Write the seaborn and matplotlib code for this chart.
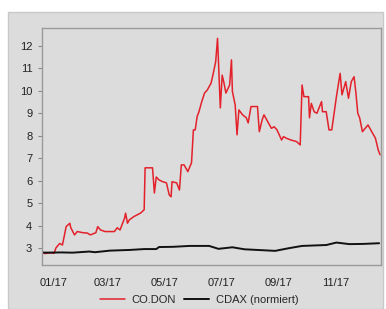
import numpy as np
import pandas as pd
import matplotlib
matplotlib.use("Agg")
import matplotlib.pyplot as plt
import matplotlib.dates as mdates
from matplotlib.patches import Rectangle
import seaborn as sns

# CO.DON share price (EUR)
codon_dates = [
    "2016-12-20", "2016-12-23", "2016-12-29", "2017-01-02", "2017-01-04", "2017-01-08",
    "2017-01-11", "2017-01-15", "2017-01-19", "2017-01-20", "2017-01-24", "2017-01-27",
    "2017-02-02", "2017-02-07", "2017-02-10", "2017-02-16", "2017-02-18", "2017-02-21",
    "2017-02-26", "2017-03-08", "2017-03-11", "2017-03-14", "2017-03-19", "2017-03-20",
    "2017-03-22", "2017-03-24", "2017-03-29", "2017-04-05", "2017-04-09", "2017-04-10",
    "2017-04-18", "2017-04-20", "2017-04-22", "2017-04-25", "2017-04-29", "2017-05-03",
    "2017-05-06", "2017-05-08", "2017-05-09", "2017-05-14", "2017-05-17", "2017-05-19",
    "2017-05-22", "2017-05-26", "2017-05-30", "2017-06-01", "2017-06-03", "2017-06-05",
    "2017-06-07", "2017-06-10", "2017-06-13", "2017-06-16", "2017-06-20", "2017-06-22",
    "2017-06-25", "2017-06-27", "2017-06-30", "2017-07-02", "2017-07-04", "2017-07-06",
    "2017-07-10", "2017-07-12", "2017-07-13", "2017-07-16", "2017-07-18", "2017-07-20",
    "2017-07-24", "2017-07-28", "2017-07-30", "2017-08-02", "2017-08-09", "2017-08-11",
    "2017-08-14", "2017-08-16", "2017-08-20", "2017-08-24", "2017-08-27", "2017-08-30",
    "2017-09-04", "2017-09-06", "2017-09-09", "2017-09-14", "2017-09-20", "2017-09-24",
    "2017-09-26", "2017-09-28", "2017-10-03", "2017-10-04", "2017-10-06", "2017-10-09",
    "2017-10-12", "2017-10-17", "2017-10-18", "2017-10-22", "2017-10-25", "2017-10-28",
    "2017-11-02", "2017-11-06", "2017-11-08", "2017-11-12", "2017-11-15", "2017-11-18",
    "2017-11-21", "2017-11-23", "2017-11-25", "2017-11-27", "2017-11-30", "2017-12-03",
    "2017-12-06", "2017-12-10", "2017-12-14", "2017-12-17", "2017-12-19",
]
codon_values = [
    2.84, 2.75, 2.78, 2.76, 3.00, 3.20,
    3.13, 3.95, 4.10, 3.90, 3.58, 3.73,
    3.68, 3.66, 3.58, 3.68, 3.95, 3.80,
    3.73, 3.73, 3.90, 3.80, 4.34, 4.55,
    4.10, 4.25, 4.40, 4.55, 4.70, 6.57,
    6.57, 5.45, 6.16, 6.03, 5.95, 5.90,
    5.36, 5.28, 5.95, 5.90, 5.58, 6.70,
    6.70, 6.40, 6.80, 8.26, 8.26, 8.85,
    9.07, 9.52, 9.90, 10.04, 10.34, 10.70,
    11.30, 12.34, 9.24, 10.70, 10.34, 9.90,
    10.26, 11.38, 9.97, 9.37, 8.04, 9.15,
    8.93, 8.80, 8.57, 9.30, 9.30, 8.18,
    8.70, 8.93, 8.63, 8.33, 8.40, 8.26,
    7.81, 7.96, 7.89, 7.81, 7.74, 7.59,
    10.26, 9.74, 9.74, 8.80, 9.44, 9.07,
    9.00, 9.52, 9.07, 9.07, 8.26, 8.26,
    9.74, 10.78, 9.82, 10.41, 9.67, 10.41,
    10.63, 9.90, 9.00, 8.80, 8.18, 8.33,
    8.48, 8.18, 7.89, 7.37, 7.15,
]

# CDAX, normalised to the CO.DON start value
cdax_dates = [
    "2016-12-20", "2017-01-10", "2017-01-22", "2017-02-09", "2017-02-15", "2017-03-03",
    "2017-03-24", "2017-04-09", "2017-04-22", "2017-04-25", "2017-05-10", "2017-05-28",
    "2017-06-18", "2017-06-28", "2017-07-13", "2017-07-26", "2017-08-09", "2017-08-28",
    "2017-09-12", "2017-09-26", "2017-10-22", "2017-11-02", "2017-11-16", "2017-12-01",
    "2017-12-18",
]
cdax_values = [
    2.79, 2.80, 2.79, 2.84, 2.81, 2.88,
    2.91, 2.95, 2.95, 3.04, 3.05, 3.09,
    3.09, 2.96, 3.03, 2.94, 2.91, 2.87,
    2.99, 3.09, 3.13, 3.24, 3.17, 3.18,
    3.21,
]

df = pd.concat([
    pd.DataFrame({"date": pd.to_datetime(codon_dates), "value": codon_values, "series": "CO.DON"}),
    pd.DataFrame({"date": pd.to_datetime(cdax_dates), "value": cdax_values, "series": "CDAX (normiert)"}),
])

bg = "#dcdcdc"
sns.set_style("ticks")
plt.rcParams["font.family"] = ["Liberation Sans", "DejaVu Sans"]

fig = plt.figure(figsize=(3.86, 3.09), dpi=100, facecolor="white")
fig.patches.append(Rectangle((8 / 386, 0), 375 / 386, 297 / 309, transform=fig.transFigure,
                             facecolor=bg, edgecolor="#c8c8c8", linewidth=1.0, zorder=-10))
ax = fig.add_axes([42 / 386, 1 - 265 / 309, 339 / 386, 237 / 309])
ax.set_zorder(1)
ax.set_facecolor(bg)

sns.lineplot(data=df, x="date", y="value", hue="series", ax=ax,
             palette={"CO.DON": "#e3212b", "CDAX (normiert)": "#111111"},
             linewidth=1.1, legend=False)
for line in ax.lines:
    if line.get_color() == "#111111":
        line.set_linewidth(1.4)

ax.set_xlim(pd.Timestamp("2016-12-20"), pd.Timestamp("2017-12-20"))
ax.set_ylim(2.24, 12.8)
ax.set_yticks(range(3, 13))
ax.xaxis.set_major_locator(mdates.MonthLocator(bymonth=[1, 3, 5, 7, 9, 11]))
ax.xaxis.set_major_formatter(mdates.DateFormatter("%m/%y"))
ax.set_xlabel("")
ax.set_ylabel("")
ax.tick_params(axis="x", length=0, pad=9, labelsize=8, colors="#222222")
ax.tick_params(axis="y", length=3, width=0.8, color="#888888", pad=4, labelsize=8, labelcolor="#222222")
for s in ax.spines.values():
    s.set_visible(True)
    s.set_color("#9a9a9a")
    s.set_linewidth(1.0)

handles = [plt.Line2D([], [], color="#e3212b", lw=1.1),
           plt.Line2D([], [], color="#111111", lw=1.4)]
fig.legend(handles, ["CO.DON", "CDAX (normiert)"], loc="center", ncol=2,
           bbox_to_anchor=(0.516, 0.028), frameon=False, fontsize=8,
           handlelength=2.2, handletextpad=0.6, columnspacing=0.8)

fig.savefig("out.png", dpi=100, facecolor="white")
